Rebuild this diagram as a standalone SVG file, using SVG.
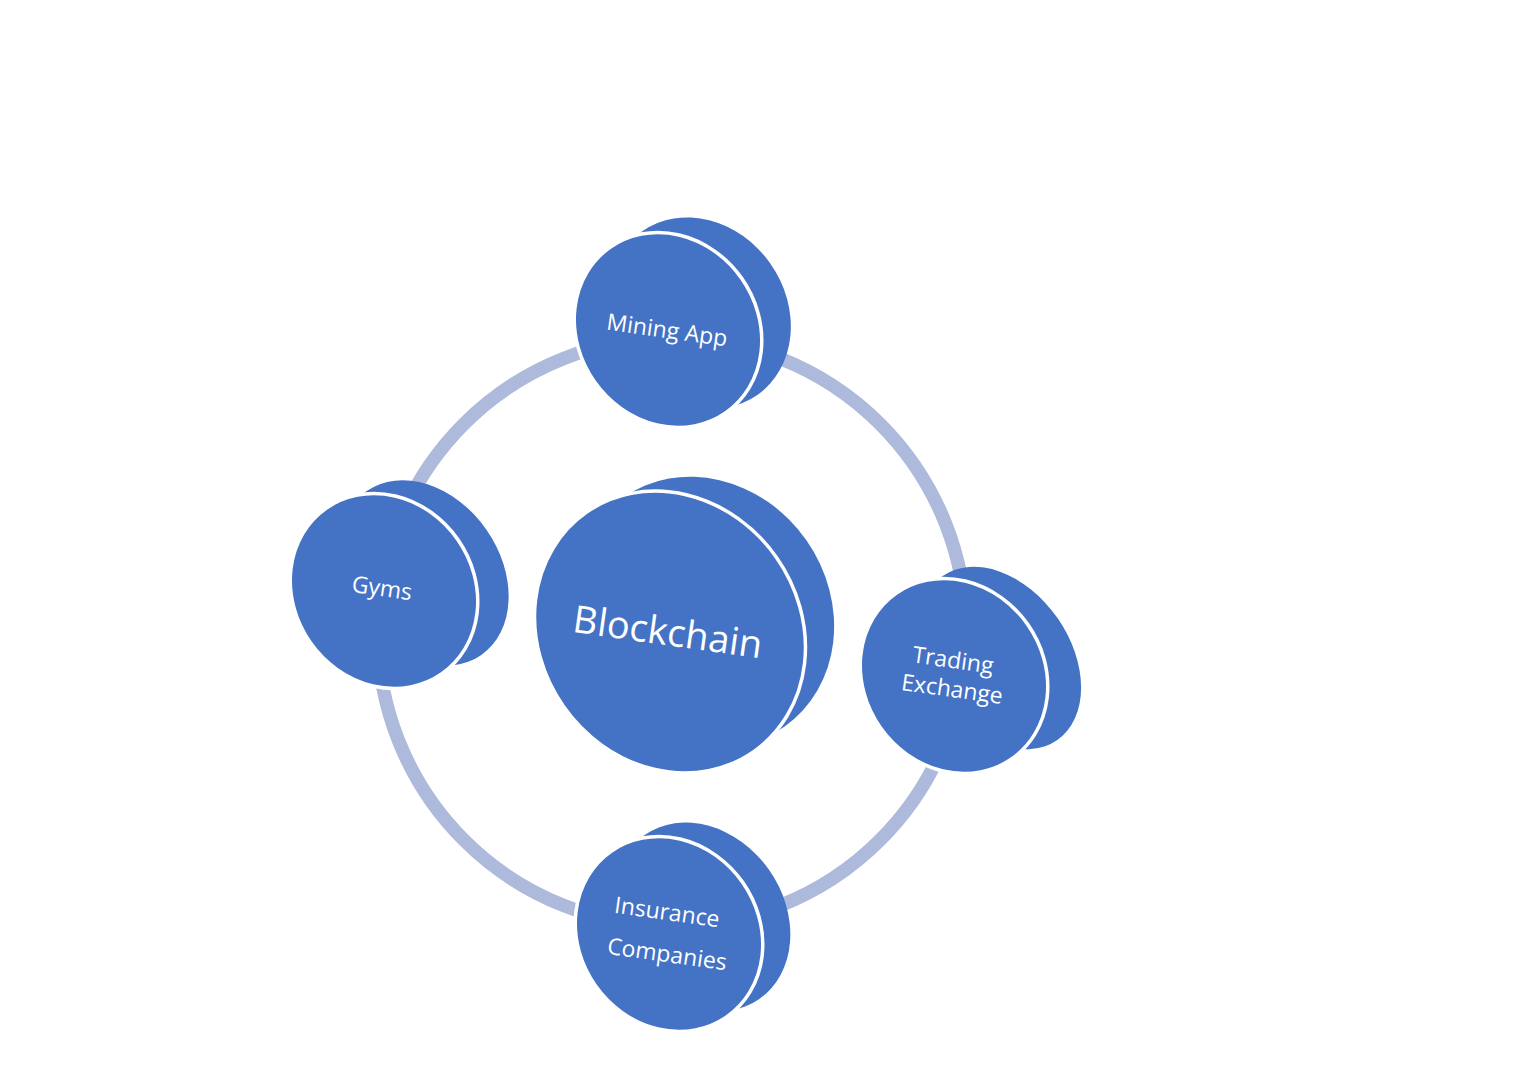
<svg xmlns="http://www.w3.org/2000/svg" width="1525" height="1080" viewBox="0 0 1525 1080">
<style>
.b{fill:#4472C4}
.f{fill:#4472C4;stroke:#fff;stroke-width:3.5}
.t{fill:#fff;font-family:"Open Sans","Liberation Sans",sans-serif;font-size:23px;text-anchor:middle}
</style>
<rect width="1525" height="1080" fill="#fff"/>
<g id="connectors">
<circle cx="672" cy="632" r="293" fill="none" stroke="#AEBADC" stroke-width="16"/>
<circle cx="672" cy="632" r="286" fill="none" stroke="#fff" stroke-width="3"/>
</g>
<g id="blockchain">
<ellipse class="b" cx="704" cy="612" rx="125" ry="140" transform="rotate(-35 704 612)"/>
<ellipse class="f" cx="670" cy="632" rx="130" ry="146" transform="rotate(-35 670 632)"/>
<text class="t" style="font-size:38px" transform="translate(666 645) rotate(8)">Blockchain</text>
</g>
<g id="mining">
<ellipse class="b" cx="700" cy="313" rx="86" ry="100" transform="rotate(-35 700 313)"/>
<ellipse class="f" cx="668" cy="330" rx="90" ry="101" transform="rotate(-35 668 330)"/>
<text class="t" transform="translate(666 338) rotate(8)">Mining App</text>
</g>
<g id="gyms">
<ellipse class="b" cx="424" cy="573" rx="76" ry="100" transform="rotate(-35 424 573)"/>
<ellipse class="f" cx="384" cy="591" rx="90" ry="101" transform="rotate(-35 384 591)"/>
<text class="t" transform="translate(381 596) rotate(8)">Gyms</text>
</g>
<g id="trading">
<ellipse class="b" cx="1000" cy="658" rx="70" ry="100" transform="rotate(-35 1000 658)"/>
<ellipse class="f" cx="954" cy="676" rx="90" ry="101" transform="rotate(-35 954 676)"/>
<text class="t" transform="translate(952 668) rotate(8)">Trading</text>
<text class="t" transform="translate(951 697) rotate(8)">Exchange</text>
</g>
<g id="insurance">
<ellipse class="b" cx="702" cy="917" rx="82" ry="100" transform="rotate(-35 702 917)"/>
<ellipse class="f" cx="669" cy="934" rx="90" ry="101" transform="rotate(-35 669 934)"/>
<text class="t" transform="translate(666 920) rotate(8)">Insurance</text>
<text class="t" transform="translate(666 962) rotate(8)">Companies</text>
</g>
</svg>
